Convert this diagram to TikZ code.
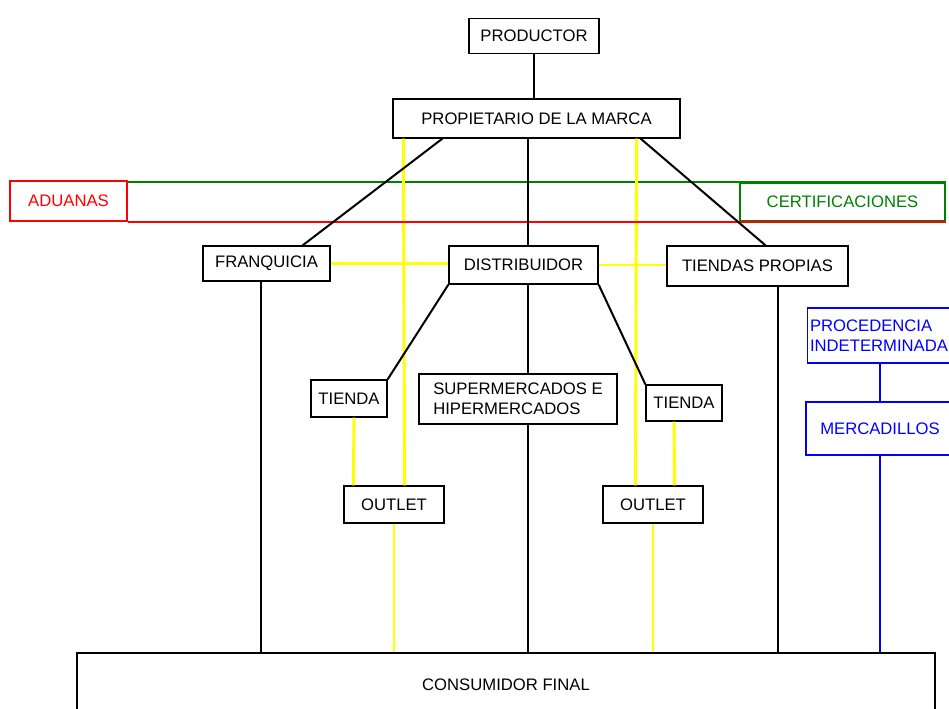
\documentclass[tikz,border=0pt]{standalone}
\usepackage{fontspec}
\setmainfont{Liberation Sans}
\usetikzlibrary{calc}
\definecolor{gtrack}{RGB}{0,128,0}
\definecolor{ytrack}{RGB}{255,255,0}
\definecolor{rtrack}{RGB}{255,0,0}
\definecolor{btrack}{RGB}{0,0,255}

\begin{document}
\begin{tikzpicture}[
  x=0.75pt, y=-0.75pt,
  every node/.style = {shape=rectangle, draw, line width=1pt, inner sep=2pt,
    align=center, font=\fontsize{12.5}{15}\selectfont},
  link/.style = {line width=1.5pt},
  yel/.style = {line width=2.2pt, ytrack},
  blu/.style = {line width=1.8pt, btrack}
  ]
  \clip (0,0) rectangle (949,708);
  \node (prod) at (534,36) [minimum width=97.5pt, minimum height=26.25pt] {PRODUCTOR};
  \node (marca) at (536.5,118.5) [minimum width=215.25pt, minimum height=29.25pt] {PROPIETARIO DE LA MARCA};
  \node (aduanas) at (68.5,201) [rtrack, line width=1.5pt, minimum width=87.75pt, minimum height=30pt] {ADUANAS};
  \node (certif) at (842.5,202) [gtrack, line width=1.5pt, minimum width=153.75pt, minimum height=28.5pt] {CERTIFICACIONES};
  \node (franq) at (266.5,263.5) [minimum width=95.25pt, minimum height=26.25pt] {FRANQUICIA};
  \node (distr) at (523.5,265) [minimum width=111.75pt, minimum height=28.5pt] {DISTRIBUIDOR};
  \node (propias) at (757.5,266) [minimum width=135.75pt, minimum height=30pt] {TIENDAS PROPIAS};
  \node (tienda1) at (349,398.5) [minimum width=57pt, minimum height=27.75pt] {TIENDA};
  \node (super) at (518,399) [align=left, minimum width=148.5pt, minimum height=37.5pt] {SUPERMERCADOS E\\HIPERMERCADOS};
  \node (tienda2) at (684,403) [minimum width=57pt, minimum height=27pt] {TIENDA};
  \node (outlet1) at (394,504.5) [minimum width=75pt, minimum height=27.75pt] {OUTLET};
  \node (outlet2) at (653,504.5) [minimum width=75pt, minimum height=27.75pt] {OUTLET};
  \node (proced) at (880,335.5) [btrack, align=left, text width=105pt, minimum height=41.25pt] {PROCEDENCIA\\INDETERMINADA};
  \node (mercad) at (880,428.5) [btrack, minimum width=111pt, minimum height=39.75pt] {MERCADILLOS};
  \node (consum) at (506,693) [minimum width=643.5pt, minimum height=60pt, text depth=12pt] {CONSUMIDOR FINAL};
  \coordinate (mid) at (528,0);
  \coordinate (fq) at ($(franq.south)+(-6,0)$);
  \coordinate (tp) at ($(propias.south)+(20,0)$);

  \draw[gtrack, line width=1.5pt] (aduanas.east |- certif.north) -- (certif.north east);
  \draw[yel] ($(marca.south west)+(11,0)$) -- ($(outlet1.north east)+(-40,0)$);
  \draw[yel] ($(marca.south east)+(-44,0)$) -- ($(outlet2.north west)+(33,0)$);
  \draw[rtrack, line width=1.5pt] (aduanas.south east) -- (certif.south east);
  \draw[link] (prod.south) -- (prod.south |- marca.north);
  \draw[link] ($(marca.south west)+(50,0)$) -- ($(franq.north east)+(-28,0)$);
  \draw[link] ($(marca.south east)+(-40,0)$) -- ($(propias.north)+(8,0)$);
  \draw[link] (marca.south -| mid) -- (distr.north -| mid);
  \draw[yel] (franq.east) -- (franq.east -| distr.west);
  \draw[yel] (distr.east) -- (distr.east -| propias.west);
  \draw[link] (distr.south west) -- (tienda1.north east);
  \draw[link] (distr.south east) -- (tienda2.north west);
  \draw[link] (distr.south -| mid) -- (super.north -| mid);
  \draw[link] (super.south -| mid) -- (consum.north -| mid);
  \draw[yel] ($(tienda1.south)+(5,0)$) -- ($(outlet1.north west)+(10,0)$);
  \draw[yel] ($(tienda2.south)+(-10,0)$) -- ($(outlet2.north east)+(-29,0)$);
  \draw[yel] (outlet1.south) -- (outlet1.south |- consum.north);
  \draw[yel] (outlet2.south) -- (outlet2.south |- consum.north);
  \draw[link] (fq) -- (fq |- consum.north);
  \draw[link] (tp) -- (tp |- consum.north);
  \draw[blu] (proced) -- (mercad);
  \draw[blu] (mercad.south) -- (mercad.south |- consum.north);
\end{tikzpicture}
\end{document}
